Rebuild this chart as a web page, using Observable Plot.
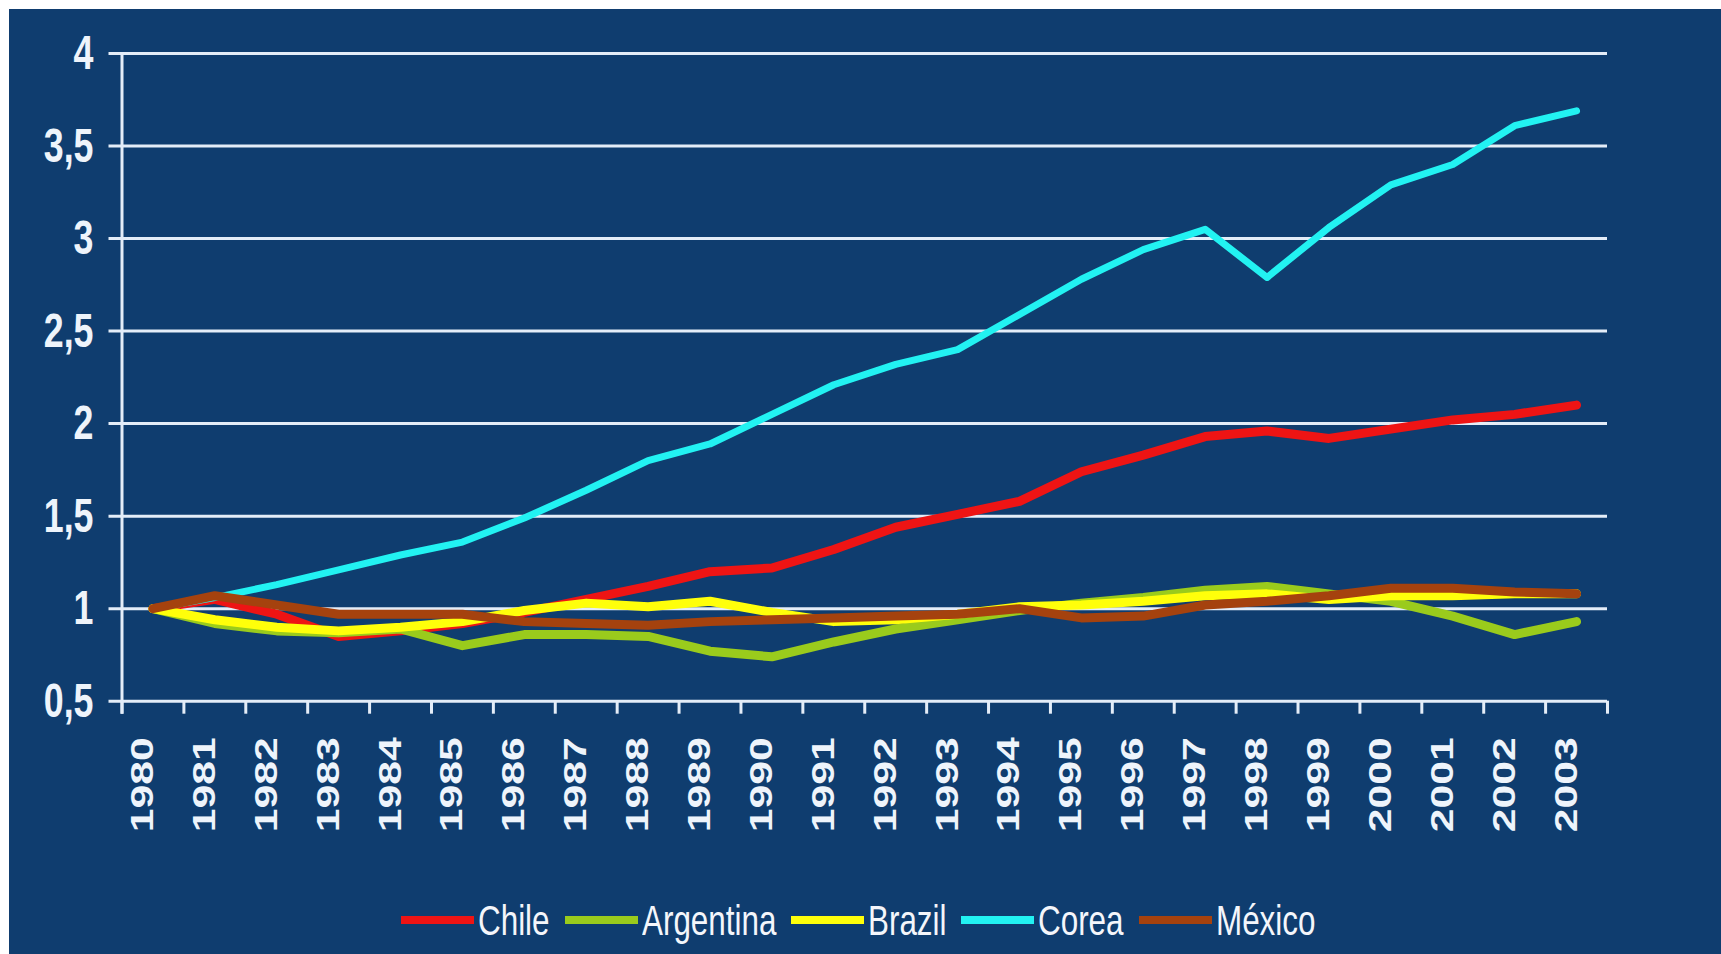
<!DOCTYPE html>
<html>
<head>
<meta charset="utf-8">
<script src="https://cdn.jsdelivr.net/npm/d3@7"></script>
<script src="https://cdn.jsdelivr.net/npm/@observablehq/plot@0.6"></script>
<style>
  html, body { margin: 0; padding: 0; background: #ffffff; }
  #wrap { position: relative; width: 1721px; height: 954px; overflow: hidden; font-family: "Liberation Sans", Arial, sans-serif; }
  #bg { position: absolute; left: 9px; top: 9px; right: 0; bottom: 0; background: #0f3d6f; }
  #chart { position: absolute; left: 0; top: 0; }
  #legend { position: absolute; left: 401px; top: 895px; height: 50px; display: flex; align-items: center; white-space: nowrap; }
  .sw { width: 73px; height: 8px; margin-right: 4px; flex: none; }
  .lab { display: inline-block; font-size: 43px; line-height: 1; color: #f4f6fb; transform: scaleX(0.73); transform-origin: left center; flex: none; }
</style>
</head>
<body>
<div id="wrap">
  <div id="bg"></div>
  <div id="chart"></div>
  <div id="legend"></div>
</div>
<script>
const years = [1980, 1981, 1982, 1983, 1984, 1985, 1986, 1987, 1988, 1989, 1990, 1991,
               1992, 1993, 1994, 1995, 1996, 1997, 1998, 1999, 2000, 2001, 2002, 2003];
const chile     = [1.00, 1.05, 0.97, 0.85, 0.88, 0.92, 0.98, 1.05, 1.12, 1.20, 1.22, 1.32,
                   1.44, 1.51, 1.58, 1.74, 1.83, 1.93, 1.96, 1.92, 1.97, 2.02, 2.05, 2.10];
const argentina = [1.00, 0.92, 0.88, 0.87, 0.89, 0.80, 0.86, 0.86, 0.85, 0.77, 0.74, 0.82,
                   0.89, 0.94, 0.99, 1.03, 1.06, 1.10, 1.12, 1.08, 1.04, 0.96, 0.86, 0.93];
const brazil    = [1.00, 0.94, 0.90, 0.88, 0.90, 0.93, 0.99, 1.03, 1.01, 1.04, 0.98, 0.93,
                   0.94, 0.97, 1.01, 1.02, 1.04, 1.07, 1.08, 1.05, 1.07, 1.07, 1.08, 1.08];
const corea     = [1.00, 1.06, 1.13, 1.21, 1.29, 1.36, 1.49, 1.64, 1.80, 1.89, 2.05, 2.21,
                   2.32, 2.40, 2.59, 2.78, 2.94, 3.05, 2.79, 3.06, 3.29, 3.40, 3.61, 3.69];
const mexico    = [1.00, 1.07, 1.02, 0.97, 0.97, 0.97, 0.93, 0.92, 0.91, 0.93, 0.94, 0.95,
                   0.96, 0.97, 1.00, 0.95, 0.96, 1.02, 1.04, 1.07, 1.11, 1.11, 1.09, 1.08];

const seriesNames = ["Chile", "Argentina", "Brazil", "Corea", "México"];
const seriesValues = [chile, argentina, brazil, corea, mexico];
const seriesColors = ["#ee1414", "#9acb1c", "#ffff0a", "#22f2f2", "#a5420e"];

const yTicks = [0.5, 1, 1.5, 2, 2.5, 3, 3.5, 4];
const yTickLabels = ["0,5", "1", "1,5", "2", "2,5", "3", "3,5", "4"];
const xBoundaries = [1979.5, 1980.5, 1981.5, 1982.5, 1983.5, 1984.5, 1985.5, 1986.5, 1987.5,
                     1988.5, 1989.5, 1990.5, 1991.5, 1992.5, 1993.5, 1994.5, 1995.5, 1996.5,
                     1997.5, 1998.5, 1999.5, 2000.5, 2001.5, 2002.5, 2003.5];

const gridColor = "#e4edf8";
const labelColor = "#eef4fb";

const lineMarks = seriesValues.map((vals, i) =>
  Plot.line(vals, {
    x: (d, j) => years[j],
    y: d => d,
    stroke: seriesColors[i],
    strokeWidth: seriesNames[i] === "Corea" ? 7 : 9,
    strokeLinejoin: "round",
    strokeLinecap: "round"
  })
);

const chart = Plot.plot({
  width: 1721,
  height: 860,
  marginTop: 53,
  marginBottom: 159.3,
  marginLeft: 121.5,
  marginRight: 114,
  style: { background: "transparent", fontFamily: "\"Liberation Sans\", Arial, sans-serif" },
  x: { type: "linear", domain: [1979.5, 2003.5], axis: null },
  y: { type: "linear", domain: [0.5, 4], axis: null },
  marks: [
    Plot.ruleY(yTicks, { y: d => d, stroke: gridColor, strokeWidth: 3, insetLeft: -13 }),
    Plot.ruleX([1979.5], { x: d => d, stroke: gridColor, strokeWidth: 3, insetBottom: -13 }),
    Plot.ruleX(xBoundaries, { x: d => d, y1: 0.5, y2: 0.5, insetBottom: -13, stroke: gridColor, strokeWidth: 3 }),
    ...lineMarks,
    Plot.text(yTicks, {
      y: d => d,
      text: (d, i) => yTickLabels[i],
      frameAnchor: "left",
      dx: -28.5,
      textAnchor: "end",
      fontSize: 49,
      fontWeight: "bold",
      fill: labelColor
    }),
    Plot.text(years, {
      x: d => d,
      text: d => String(d),
      frameAnchor: "bottom",
      dy: 36,
      rotate: -90,
      textAnchor: "end",
      fontSize: 42.7,
      fontWeight: "bold",
      fill: labelColor
    })
  ]
});

document.getElementById("chart").appendChild(chart);

// condense label glyphs like the reference (first text mark = y labels, second = x labels)
const textGroups = chart.querySelectorAll('g[aria-label="text"]');
if (textGroups.length >= 2) {
  textGroups[0].querySelectorAll("text").forEach(t => {
    t.setAttribute("transform", (t.getAttribute("transform") || "") + " scale(0.73,1)");
  });
  textGroups[1].querySelectorAll("text").forEach(t => {
    t.setAttribute("transform", (t.getAttribute("transform") || "") + " scale(1,0.73)");
  });
}

// legend
const legend = document.getElementById("legend");
seriesNames.forEach((name, i) => {
  const sw = document.createElement("div");
  sw.className = "sw";
  sw.style.background = seriesColors[i];
  legend.appendChild(sw);
  const lab = document.createElement("span");
  lab.className = "lab";
  lab.textContent = name;
  legend.appendChild(lab);
  const w = lab.getBoundingClientRect().width / 0.73;
  lab.style.marginRight = (-(1 - 0.73) * w + (i < seriesNames.length - 1 ? 15 : 0)) + "px";
});
</script>
</body>
</html>
